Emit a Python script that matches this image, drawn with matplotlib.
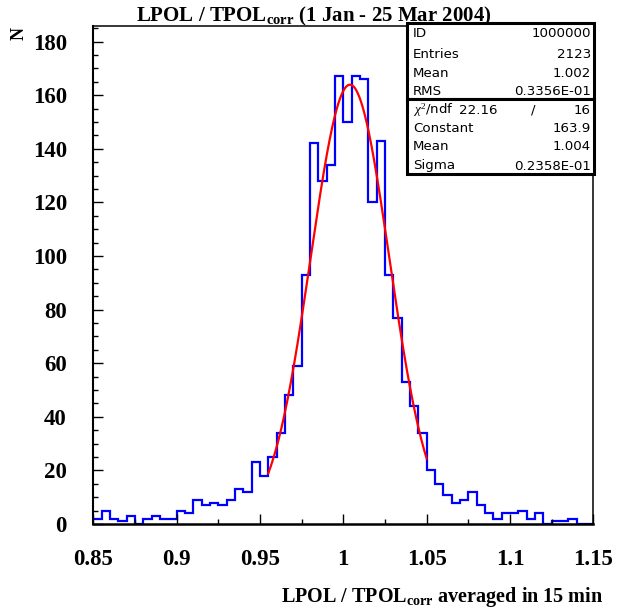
import numpy as np
import matplotlib
matplotlib.use("Agg")
import matplotlib.pyplot as plt
from matplotlib.patches import Rectangle
from matplotlib.ticker import MultipleLocator, FormatStrFormatter

plt.rcParams['mathtext.fontset'] = 'custom'
plt.rcParams['mathtext.rm'] = 'Liberation Serif'
plt.rcParams['mathtext.bf'] = 'Liberation Serif:bold'
plt.rcParams['mathtext.it'] = 'Liberation Serif:italic'

# histogram: 60 bins of 0.005 between 0.85 and 1.15
x_lo, x_hi, n_bins = 0.85, 1.15, 60
counts = [2, 5, 2, 1, 3, 0, 2, 3, 2, 2,
          5, 4, 9, 7, 8, 7, 9, 13, 12, 23,
          18, 25, 34, 48, 59, 93, 142, 128, 134, 167,
          150, 167, 166, 120, 143, 93, 77, 53, 44, 34,
          20, 15, 11, 8, 9, 12, 7, 4, 2, 4,
          4, 5, 2, 4, 0, 1, 1, 2, 0, 0]

# gaussian fit
fit_const, fit_mean, fit_sigma = 163.9, 1.004, 0.02358
fit_range = (0.955, 1.05)

stats_top = [("ID", "1000000"), ("Entries", "2123"),
             ("Mean", "1.002"), ("RMS", "0.3356E-01")]
stats_fit = [("Constant", "163.9"), ("Mean", "1.004"), ("Sigma", "0.2358E-01")]
chi2, ndf = "22.16", "16"

W, H = 618, 615
fig = plt.figure(figsize=(W / 100, H / 100), dpi=100)


def fx(x):
    return x / W


def fy(y):
    return 1 - y / H


ax = fig.add_axes([fx(93.3), fy(524), fx(593.3) - fx(93.3), fy(25.7) - fy(524)])

edges = np.linspace(x_lo, x_hi, n_bins + 1)
ax.stairs(counts, edges, color='#0000ff', lw=1.6, baseline=None)

xf = np.linspace(fit_range[0], fit_range[1], 300)
yf = fit_const * np.exp(-0.5 * ((xf - fit_mean) / fit_sigma) ** 2)
ax.plot(xf, yf, color='#ff0000', lw=1.6)

ax.set_xlim(x_lo, x_hi)
ax.set_ylim(0, 185.9)
ax.xaxis.set_major_locator(MultipleLocator(0.05))
ax.xaxis.set_minor_locator(MultipleLocator(0.025))
ax.yaxis.set_major_locator(MultipleLocator(20))
ax.yaxis.set_minor_locator(MultipleLocator(5))
ax.xaxis.set_major_formatter(FormatStrFormatter('%g'))
ax.tick_params(which='both', direction='in', top=False, right=False, width=1)
ax.tick_params(which='major', length=7.5)
ax.tick_params(which='minor', length=3.5)
ax.tick_params(axis='y', which='major', pad=19)
ax.tick_params(axis='x', which='major', pad=18)
for lab in ax.get_xticklabels() + ax.get_yticklabels():
    lab.set_fontfamily('Liberation Serif')
    lab.set_fontweight('bold')
    lab.set_fontsize(16.5)
for s in ax.spines.values():
    s.set_linewidth(1.1)
ax.spines['bottom'].set_linewidth(1.8)
ax.spines['left'].set_linewidth(1.5)

serif = dict(family='Liberation Serif', weight='bold')
fig.text(fx(314), fy(21), r"LPOL / TPOL$_{\mathbf{corr}}$ (1 Jan - 25 Mar 2004)",
         ha='center', va='baseline', fontsize=15, **serif)
fig.text(fx(603), fy(602), r"LPOL / TPOL$_{\mathbf{corr}}$ averaged in 15 min",
         ha='right', va='baseline', fontsize=14.5, **serif)
fig.text(fx(19), fy(33), "N", rotation=90, ha='center', va='center',
         fontsize=13, **serif)

# statistics boxes
box_l, box_r = 406.7, 594.0
for top, bot in [(22.5, 99.0), (99.0, 174.0)]:
    fig.add_artist(Rectangle((fx(box_l), fy(bot)), fx(box_r) - fx(box_l),
                             fy(top) - fy(bot), transform=fig.transFigure,
                             facecolor='white', edgecolor='black', lw=2.2,
                             zorder=5))

sans = dict(family='DejaVu Sans', fontsize=9.6, zorder=6)
rows_y = [33.3, 54.3, 73.3, 91.5]
for (k, v), y in zip(stats_top, rows_y):
    fig.text(fx(413), fy(y), k, ha='left', va='center', **sans)
    fig.text(fx(591), fy(y), v, ha='right', va='center', **sans)

fig.text(fx(413), fy(110), r"$\chi^2$/ndf", ha='left', va='center', **sans)
fig.text(fx(497), fy(110), chi2, ha='right', va='center', **sans)
fig.text(fx(533), fy(110), "/", ha='center', va='center', **sans)
fig.text(fx(591), fy(110), ndf, ha='right', va='center', **sans)
for (k, v), y in zip(stats_fit, [128.5, 147.0, 166.0]):
    fig.text(fx(413), fy(y), k, ha='left', va='center', **sans)
    fig.text(fx(591), fy(y), v, ha='right', va='center', **sans)

fig.savefig("out.png", dpi=100)
